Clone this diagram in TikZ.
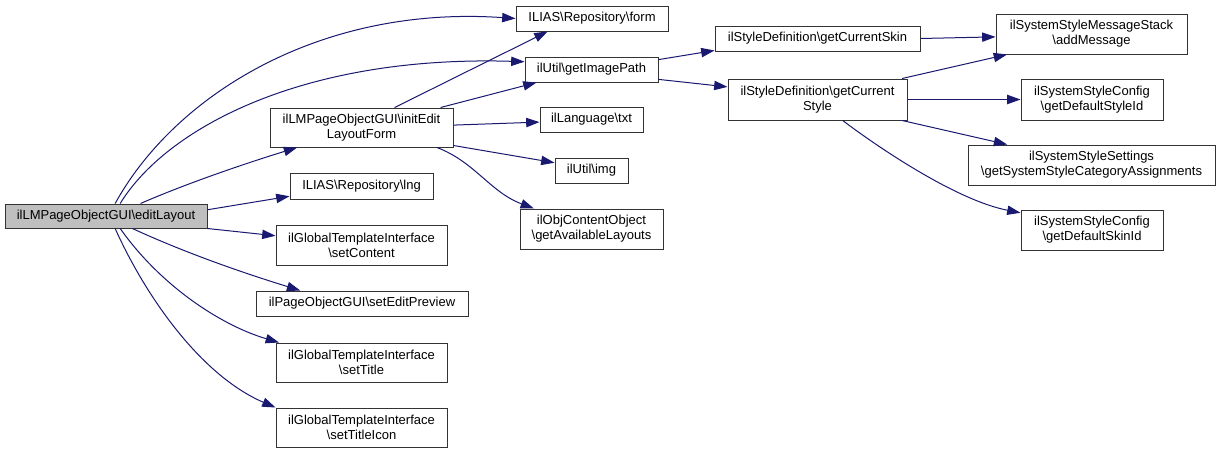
\documentclass[tikz,border=0pt]{standalone}
\usepackage{fontspec}
\setmainfont{Liberation Sans}
\usetikzlibrary{arrows.meta,calc}
\definecolor{edgeblue}{HTML}{191970}
\definecolor{mainfill}{HTML}{BFBFBF}
\begin{document}
\begin{tikzpicture}[x=0.75pt,y=-0.75pt,
  box/.style 2 args={draw=black!80, line width=0.75pt, fill=white, inner sep=0pt,
    minimum width=#1*0.75pt, minimum height=#2*0.75pt, align=center,
    font=\fontsize{9.75}{11.25}\selectfont},
  edge/.style={draw=edgeblue, line width=0.75pt,
    -{Triangle[length=10pt,width=7pt]}}]
\useasboundingbox[fill=white] (0,0) rectangle (1221,454);

\node[box={202}{24}, fill=mainfill] (edit) at (106,216) {ilLMPageObjectGUI\textbackslash editLayout};
\node[box={183}{39}] (init) at (361.5,127.5) {ilLMPageObjectGUI\textbackslash initEdit\\LayoutForm};
\node[box={143}{26}] (lng) at (361.5,186) {ILIAS\textbackslash Repository\textbackslash lng};
\node[box={171}{40}] (setc) at (361.5,245) {ilGlobalTemplateInterface\\\textbackslash setContent};
\node[box={212}{25}] (prev) at (362,303.5) {ilPageObjectGUI\textbackslash setEditPreview};
\node[box={171}{39}] (title) at (361.5,362.5) {ilGlobalTemplateInterface\\\textbackslash setTitle};
\node[box={171}{39}] (icon) at (361.5,427.5) {ilGlobalTemplateInterface\\\textbackslash setTitleIcon};
\node[box={152}{25}] (form) at (592,18.5) {ILIAS\textbackslash Repository\textbackslash form};
\node[box={133}{25}] (gip) at (591.5,69.5) {ilUtil\textbackslash getImagePath};
\node[box={103}{25}] (txt) at (591.5,119.5) {ilLanguage\textbackslash txt};
\node[box={73}{25}] (img) at (591.5,170.5) {ilUtil\textbackslash img};
\node[box={143}{40}] (gal) at (591.5,229) {ilObjContentObject\\\textbackslash getAvailableLayouts};
\node[box={205}{25}] (skin) at (817.5,38.5) {ilStyleDefinition\textbackslash getCurrentSkin};
\node[box={179}{41}] (style) at (817.5,99.5) {ilStyleDefinition\textbackslash getCurrent\\Style};
\node[box={191}{40}] (msg) at (1091.5,34) {ilSystemStyleMessageStack\\\textbackslash addMessage};
\node[box={142}{41}] (dsty) at (1092,99.5) {ilSystemStyleConfig\\\textbackslash getDefaultStyleId};
\node[box={247}{40}] (cat) at (1091.5,165) {ilSystemStyleSettings\\\textbackslash getSystemStyleCategoryAssignments};
\node[box={142}{40}] (dskin) at (1092,230) {ilSystemStyleConfig\\\textbackslash getDefaultSkinId};

% from editLayout
\draw[edge] ($(edit.north west)!0.545!(edit.north east)$) .. controls (175,95) and (320,5) .. (form.west);
\draw[edge] ($(edit.north west)!0.57!(edit.north east)$) .. controls (165,130) and (300,55) .. ($(gip.north west)!0.2!(gip.south west)$);
\draw[edge] ($(edit.north west)!0.67!(edit.north east)$) .. controls (190,182) and (250,162) .. ($(init.south west)!0.15!(init.south east)$);
\draw[edge] ($(edit.north east)!0.25!(edit.south east)$) -- ($(lng.north west)!0.88!(lng.south west)$);
\draw[edge] (edit.south east) -- ($(setc.north west)!0.275!(setc.south west)$);
\draw[edge] ($(edit.south west)!0.63!(edit.south east)$) .. controls (190,255) and (250,275) .. ($(prev.north west)!0.21!(prev.north east)$);
\draw[edge] ($(edit.south west)!0.57!(edit.south east)$) .. controls (160,285) and (220,325) .. ($(title.north west)!0.02!(title.north east)$);
\draw[edge] ($(edit.south west)!0.545!(edit.south east)$) .. controls (145,295) and (200,375) .. (icon.north west);

% from initEditLayoutForm
\draw[edge] ($(init.north west)!0.68!(init.north east)$) -- ($(form.south west)!0.21!(form.south east)$);
\draw[edge] ($(init.north west)!0.93!(init.north east)$) -- ($(gip.south west)!0.09!(gip.south east)$);
\draw[edge] ($(init.north east)!0.44!(init.south east)$) -- ($(txt.north west)!0.6!(txt.south west)$);
\draw[edge] ($(init.north east)!0.95!(init.south east)$) -- ($(img.north west)!0.2!(img.south west)$);
\draw[edge] ($(init.south west)!0.91!(init.south east)$) .. controls (475,162) and (490,192) .. ($(gal.north west)!0.1!(gal.north east)$);

% from getImagePath
\draw[edge] ($(gip.north east)!0.12!(gip.south east)$) -- ($(skin.north west)!0.96!(skin.south west)$);
\draw[edge] ($(gip.north east)!0.88!(gip.south east)$) -- ($(style.north west)!0.2!(style.south west)$);

% from getCurrentSkin
\draw[edge] (skin.east) -- ($(msg.north west)!0.57!(msg.south west)$);

% from getCurrentStyle
\draw[edge] ($(style.north west)!0.97!(style.north east)$) -- ($(msg.south west)!0.06!(msg.south east)$);
\draw[edge] (style.east) -- (dsty.west);
\draw[edge] ($(style.south west)!0.97!(style.south east)$) -- ($(cat.north west)!0.16!(cat.north east)$);
\draw[edge] ($(style.south west)!0.64!(style.south east)$) .. controls (875,145) and (955,200) .. ($(dskin.north west)!0.08!(dskin.south west)$);
\end{tikzpicture}
\end{document}
